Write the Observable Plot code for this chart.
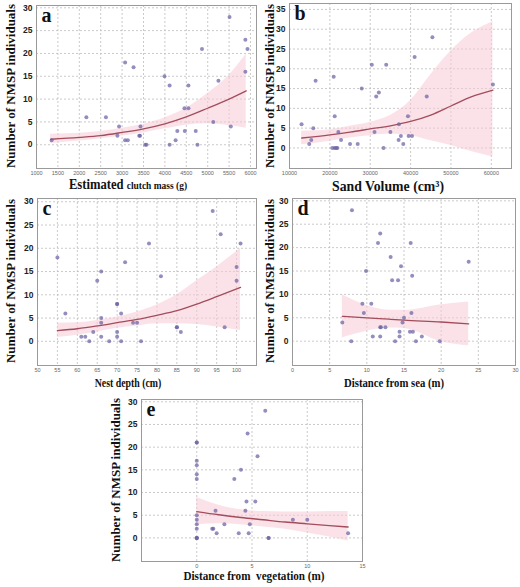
<!DOCTYPE html>
<html>
<head>
<meta charset="utf-8">
<script src="https://cdn.jsdelivr.net/npm/d3@7"></script>
<script src="https://cdn.jsdelivr.net/npm/@observablehq/plot@0.6"></script>
<style>
  html, body { margin: 0; padding: 0; background: #fff; }
  #wrap { position: relative; width: 520px; height: 587px; overflow: hidden; }
  .panel { position: absolute; }
  .ylab, .xlab { position: absolute; font-family: "Liberation Serif", serif; font-weight: bold; color: #111; white-space: pre; line-height: 1; }
</style>
</head>
<body>
<div id="wrap"></div>
<script>
// ---------- Data ----------
// Panel a: Estimated clutch mass (g)
const clutchMass = [1354,2165,2622,2929,2890,3070,3070,3134,3268,3400,3420,3430,3540,3570,3990,4110,4110,4250,4290,4457,4465,4550,4550,4720,4760,4866,5130,5250,5510,5540,5880,5880,5930];
const clutchN    = [1,6,6,4,2,18,1,1,17,2,2,4,0,0,15,13,0,1,3,8,3,8,13,3,0,21,5,14,28,4,23,16,21];
const clutchFitX = [1330,2000,2500,3000,3500,4000,4500,5000,5500,5900];
const clutchFit  = [1.2,1.6,2.0,2.7,3.5,4.6,6.1,8.0,10.0,11.8];
const clutchLo   = [0.3,0.8,1.3,1.9,2.6,3.5,4.3,4.6,4.2,3.6];
const clutchHi   = [2.3,2.5,2.9,3.6,4.5,5.9,8.0,11.2,15.2,19.8];

// Panel b: Sand volume (cm3)
const sandVol = [12990,14890,15390,15890,16470,20600,21200,21530,21860,20950,21200,22100,22770,25000,26900,27900,30400,31060,31480,32140,33300,33960,35000,37030,37110,37600,38190,39350,39520,40350,41000,44000,45400,60400];
const sandN   = [6,1,2,5,17,0,0,0,0,18,8,4,2,1,1,15,21,4,13,14,0,21,4,2,6,3,1,8,3,3,23,13,28,16];
const sandFitX = [13000,20000,25000,30000,35000,40000,45000,50000,55000,60400];
const sandFit  = [2.5,3.3,4.0,4.8,5.6,6.7,8.3,10.6,12.9,14.6];
const sandLo   = [0.8,1.7,2.5,3.1,3.5,3.1,1.8,0.6,-0.9,-2.3];
const sandHi   = [4.2,4.6,5.5,6.5,8.2,12.0,18.5,24.5,29.0,31.9];

// Panel c: Nest depth (cm)
const depth  = [55,57,61,62,63,64,65,66,66,66,66,68,70,70,70,70,71,71,72,74,75,76,78,81,85,85,86,94,96,97,100,100,101];
const depthN = [18,6,1,1,0,2,13,15,5,4,1,0,8,8,2,1,6,0,17,4,4,0,21,14,3,3,2,28,23,3,16,13,21];
const depthFitX = [55,60,65,70,75,80,85,90,95,101];
const depthFit  = [2.3,2.7,3.3,4.0,4.7,5.6,6.6,8.0,9.6,11.6];
const depthLo   = [0.8,1.3,2.0,2.8,3.3,3.8,3.8,3.6,3.1,2.3];
const depthHi   = [3.9,4.0,4.5,5.2,6.3,7.8,10.0,13.0,16.0,20.0];

// Panel d: Distance from sea (m)
const seaDist = [6.7,7.9,8.0,9.4,9.6,9.9,10.6,10.8,11.5,11.8,11.9,11.8,11.8,12.5,13.2,13.4,13.8,14.2,14.4,14.4,14.6,14.8,15.0,15.8,16.0,15.9,16.1,16.2,16.6,17.4,19.8,23.7];
const seaN    = [4,0,28,8,6,15,8,1,21,3,3,23,1,3,18,13,0,13,2,1,16,4,5,2,6,21,14,2,0,1,0,17];
const seaFitX = [6.7,10,13,15,20,23.7];
const seaFit  = [5.3,5.0,4.7,4.5,4.1,3.7];
const seaLo   = [0.7,2.1,2.8,2.7,-0.1,-1.0];
const seaHi   = [9.9,7.6,6.6,6.6,7.8,8.4];

// Panel e: Distance from vegetation (m)
const vegDist = [0,0,0,0,0,0,0,0,0,0,0,0,0,1.4,1.5,1.7,1.8,2.5,3.4,3.8,4.0,4.4,4.5,4.6,4.7,4.8,5.3,5.5,6.2,6.5,6.5,8.7,10.0,13.7];
const vegN    = [21,21,17,16,14,13,5,4,3,2,0,0,0,2,2,6,1,3,13,1,15,6,8,23,1,3,8,18,28,0,0,4,4,1];
const vegFitX = [0,2,4,6,8,10,12,13.7];
const vegFit  = [5.8,5.1,4.5,4.0,3.5,3.1,2.7,2.4];
const vegLo   = [2.9,3.1,2.9,2.4,1.9,1.1,0.2,-0.7];
const vegHi   = [8.9,7.2,6.2,5.8,5.7,5.7,5.8,5.8];

// Tick values
const yTicks30 = [0,5,10,15,20,25,30];
const yTicks35 = [0,5,10,15,20,25,30,35];
const clutchTicks = [1000,1500,2000,2500,3000,3500,4000,4500,5000,5500,6000];
const sandTicks = [10000,20000,30000,40000,50000,60000];
const depthTicks = [50,55,60,65,70,75,80,85,90,95,100];
const seaTicks = [0,5,10,15,20,25,30];
const vegTicks = [0,5,10,15];

// ---------- Drawing ----------
const wrap = document.getElementById("wrap");
const zip = (xs, ys) => xs.map((x, i) => ({x, y: ys[i]}));
const fitTable = (xs, f, lo, hi) => xs.map((x, i) => ({x, y: f[i], lo: lo[i], hi: hi[i]}));

function panel(cfg) {
  const pts = zip(cfg.xs, cfg.ys);
  const fit = fitTable(cfg.fx, cfg.f, cfg.lo, cfg.hi);
  const grid = {stroke: "#bdbdbd", strokeOpacity: 1, strokeDasharray: "2,2", strokeWidth: 0.8};
  const svg = Plot.plot({
    width: cfg.w, height: cfg.h,
    marginLeft: cfg.ml, marginRight: cfg.mr, marginTop: cfg.mt, marginBottom: cfg.mb,
    x: {domain: cfg.xd},
    y: {domain: cfg.yd},
    style: {background: "transparent", overflow: "visible"},
    marks: [
      Plot.gridX(cfg.xt, grid),
      Plot.gridY(cfg.yt, grid),
      Plot.areaY(fit, {x: "x", y1: "lo", y2: "hi", fill: "#f8cad5", fillOpacity: 0.55, curve: "monotone-x"}),
      Plot.lineY(fit, {x: "x", y: "y", stroke: "#a34c5c", strokeWidth: 1.3, curve: "monotone-x"}),
      Plot.dot(pts, {x: "x", y: "y", r: 2, fill: "#6a62a3", fillOpacity: 0.72}),
      Plot.frame({stroke: "#9a9a9a", strokeWidth: 1}),
      Plot.axisX(cfg.xt, {tickSize: 0, tickPadding: 3, fontSize: 5.5, fill: "#666", fontFamily: "Liberation Sans", label: null, tickFormat: d => String(d)}),
      Plot.axisY(cfg.yt, {tickSize: 0, tickPadding: 4, fontSize: 8.5, fontWeight: "bold", fill: "#222", fontFamily: "Liberation Sans", label: null}),
      Plot.text([cfg.letter], {frameAnchor: "top-left", dx: 5, dy: 2, lineAnchor: "top", textAnchor: "start", fontSize: 20, fontWeight: "bold", fontFamily: "Liberation Serif", fill: "#111"})
    ]
  });
  const d = document.createElement("div");
  d.className = "panel";
  d.style.left = cfg.left + "px";
  d.style.top = cfg.top + "px";
  d.appendChild(svg);
  wrap.appendChild(d);
}

function ylab(cx, cy) {
  const d = document.createElement("div");
  d.className = "ylab";
  d.style.fontSize = "13px";
  d.style.left = cx + "px";
  d.style.top = cy + "px";
  d.style.transform = "translate(-50%,-50%) rotate(-90deg)";
  d.textContent = "Number of NMSP individuals";
  wrap.appendChild(d);
}

function xlab(cx, baseline, size, sx, html) {
  const d = document.createElement("div");
  d.className = "xlab";
  d.style.fontSize = size + "px";
  d.style.left = cx + "px";
  d.style.top = (baseline - 0.89 * size) + "px";
  d.style.transform = `translateX(-50%) scaleX(${sx})`;
  d.innerHTML = html;
  wrap.appendChild(d);
}

panel({left: 0, top: 0, w: 260, h: 180, ml: 36, mr: 4, mt: 5, mb: 12,
  xd: [1000, 6140], yd: [-5.2, 30.5], xt: clutchTicks, yt: yTicks30, letter: "a",
  xs: clutchMass, ys: clutchN, fx: clutchFitX, f: clutchFit, lo: clutchLo, hi: clutchHi});
panel({left: 260, top: 0, w: 260, h: 180, ml: 29, mr: 9, mt: 3, mb: 12,
  xd: [10000, 65000], yd: [-5.2, 36.5], xt: sandTicks, yt: yTicks35, letter: "b",
  xs: sandVol, ys: sandN, fx: sandFitX, f: sandFit, lo: sandLo, hi: sandHi});
panel({left: 0, top: 195, w: 260, h: 182, ml: 37, mr: 4, mt: 3, mb: 12,
  xd: [50, 105], yd: [-5.2, 30.7], xt: depthTicks, yt: yTicks30, letter: "c",
  xs: depth, ys: depthN, fx: depthFitX, f: depthFit, lo: depthLo, hi: depthHi});
panel({left: 260, top: 195, w: 260, h: 182, ml: 32, mr: 5, mt: 3, mb: 12,
  xd: [0, 30], yd: [-5.2, 30.5], xt: seaTicks, yt: yTicks30, letter: "d",
  xs: seaDist, ys: seaN, fx: seaFitX, f: seaFit, lo: seaLo, hi: seaHi});
panel({left: 100, top: 390, w: 270, h: 183, ml: 41, mr: 8, mt: 9, mb: 12,
  xd: [-5, 15], yd: [-5.2, 30.5], xt: vegTicks, yt: yTicks30, letter: "e",
  xs: vegDist, ys: vegN, fx: vegFitX, f: vegFit, lo: vegLo, hi: vegHi});

ylab(9.5, 86);
ylab(268.5, 86);
ylab(9.5, 281);
ylab(269, 281);
ylab(115, 480);

xlab(128, 190, 14, 0.9, 'Estimated <span style="font-size:10.5px">clutch mass (g)</span>');
xlab(388, 192, 14.5, 0.95, 'Sand Volume (cm³)');
xlab(127.5, 388, 12, 0.82, 'Nest depth (cm)');
xlab(394, 388, 11.5, 0.93, 'Distance from sea (m)');
xlab(254, 581, 12, 0.93, 'Distance from  vegetation (m)');
</script>
</body>
</html>
